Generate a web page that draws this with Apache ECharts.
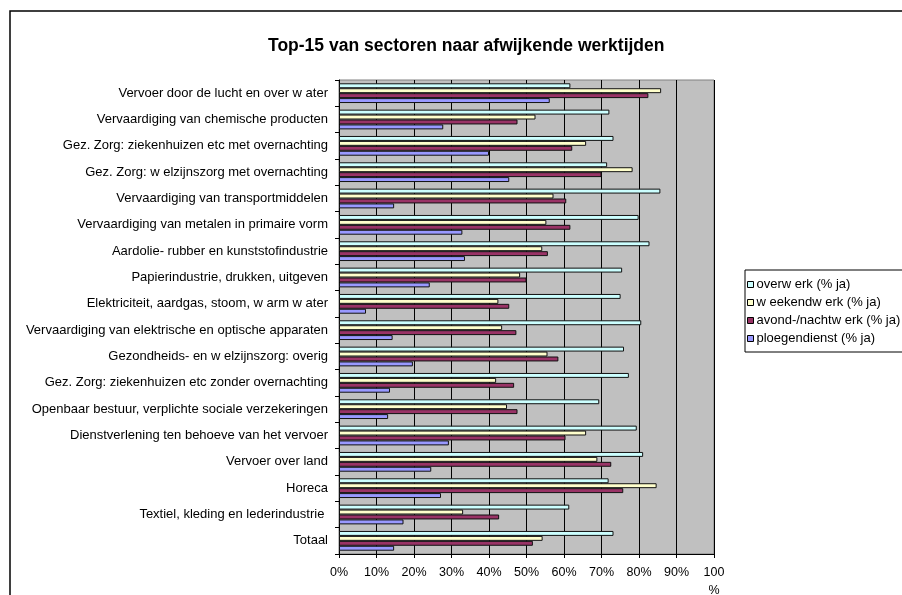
<!DOCTYPE html>
<html>
<head>
<meta charset="utf-8">
<script src="https://cdn.jsdelivr.net/npm/echarts@6/dist/echarts.min.js"></script>
<style>html,body{margin:0;padding:0;background:#fff}#c{width:902px;height:595px}</style>
</head>
<body>
<div id="c"></div>
<script>
var categories = [
  "Vervoer door de lucht en over w ater",
  "Vervaardiging van chemische producten",
  "Gez. Zorg: ziekenhuizen etc met overnachting",
  "Gez. Zorg: w elzijnszorg met overnachting",
  "Vervaardiging van transportmiddelen",
  "Vervaardiging van metalen in primaire vorm",
  "Aardolie- rubber en kunststofindustrie",
  "Papierindustrie, drukken, uitgeven",
  "Elektriciteit, aardgas, stoom, w arm w ater",
  "Vervaardiging van elektrische en optische apparaten",
  "Gezondheids- en w elzijnszorg: overig",
  "Gez. Zorg: ziekenhuizen etc zonder overnachting",
  "Openbaar bestuur, verplichte sociale verzekeringen",
  "Dienstverlening ten behoeve van het vervoer",
  "Vervoer over land",
  "Horeca",
  "Textiel, kleding en lederindustrie ",
  "Totaal"
];
var seriesNames = ["overw erk (% ja)", "w eekendw erk (% ja)", "avond-/nachtw erk (% ja)", "ploegendienst (% ja)"];
var overwerk   = [61.7, 72.1, 73.2, 71.5, 85.7, 79.9, 82.8, 75.5, 75.1, 80.6, 76.0, 77.3, 69.4, 79.4, 81.1, 71.9, 61.4, 73.2];
var weekend    = [85.9, 52.4, 65.9, 78.3, 57.2, 55.3, 54.2, 48.3, 42.5, 43.5, 55.6, 41.9, 44.8, 65.9, 68.9, 84.7, 33.1, 54.3];
var avondnacht = [82.5, 47.6, 62.2, 70.0, 60.6, 61.7, 55.7, 50.0, 45.4, 47.3, 58.5, 46.7, 47.6, 60.4, 72.6, 75.8, 42.7, 51.7];
var ploegen    = [56.2, 27.8, 40.0, 45.4, 14.7, 32.9, 33.6, 24.2,  7.2, 14.3, 19.7, 13.6, 13.1, 29.3, 24.6, 27.2, 17.2, 14.7];
var xTicks = [0, 10, 20, 30, 40, 50, 60, 70, 80, 90, 100];

var colors = ['#CCFFFF', '#FFFFCC', '#993366', '#9999FF'];
var values = [overwerk, weekend, avondnacht, ploegen];
var FONT = 'Liberation Sans, Arial, sans-serif';

var chart = echarts.init(document.getElementById('c'), null, {renderer: 'canvas'});
var series = seriesNames.map(function (n, i) {
  return {
    name: n,
    type: 'bar',
    data: values[i],
    barGap: '0%',
    barCategoryGap: '25%',
    itemStyle: {color: colors[i], borderColor: '#111', borderWidth: 1},
    silent: true
  };
});

chart.setOption({
  animation: false,
  backgroundColor: '#fff',
  textStyle: {fontFamily: FONT},
  title: {
    text: 'Top-15 van sectoren naar afwijkende werktijden',
    left: 263, top: 32,
    textStyle: {fontFamily: FONT, fontSize: 17.5, fontWeight: 'bold', color: '#000'}
  },
  graphic: [
    {type: 'rect', shape: {x: 10, y: 11, width: 1000, height: 700}, style: {fill: 'none', stroke: '#000', lineWidth: 1.5}, silent: true, z: 100},
    {type: 'rect', shape: {x: 745, y: 270, width: 300, height: 82}, style: {fill: '#fff', stroke: '#000', lineWidth: 1}, silent: true, z: -1}
  ],
  legend: {
    orient: 'vertical',
    left: 742, top: 273,
    icon: 'rect',
    itemWidth: 6, itemHeight: 6,
    itemGap: 5,
    data: seriesNames,
    itemStyle: {borderColor: '#000', borderWidth: 1},
    textStyle: {fontFamily: FONT, fontSize: 13, color: '#000', lineHeight: 13, padding: [0, 0, 0, -2]}
  },
  grid: {
    left: 339, right: 188, top: 80, bottom: 41,
    containLabel: false,
    outerBoundsMode: 'none',
    show: true, backgroundColor: '#C0C0C0', borderColor: '#808080', borderWidth: 1
  },
  xAxis: {
    type: 'value', min: xTicks[0], max: xTicks[xTicks.length - 1], interval: 10,
    axisLine: {show: true, lineStyle: {color: '#000', width: 1}},
    axisTick: {show: true, length: 4, lineStyle: {color: '#000'}},
    splitLine: {show: true, lineStyle: {color: '#000', width: 1}},
    axisLabel: {
      fontFamily: FONT, fontSize: 12.5, color: '#000', margin: 10, lineHeight: 18,
      formatter: function (v) { return v === 100 ? '100\n%' : v + '%'; }
    }
  },
  yAxis: {
    type: 'category', data: categories, inverse: true,
    axisLine: {show: true, lineStyle: {color: '#000', width: 1}},
    axisTick: {show: true, length: 4, lineStyle: {color: '#000'}},
    axisLabel: {fontFamily: FONT, fontSize: 13, color: '#000', margin: 11, interval: 0}
  },
  series: series
});
</script>
</body>
</html>
